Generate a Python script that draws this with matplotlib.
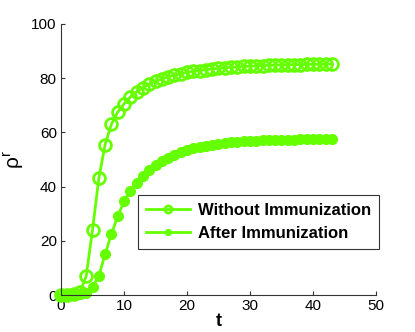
import matplotlib
matplotlib.use("Agg")
import matplotlib.pyplot as plt
import numpy as np

t = list(range(0, 44))
without_imm = [0, 0, 0.3, 1, 7, 24, 43, 55.5, 63, 67.5,
               70.5, 73, 75, 76.5, 77.8, 78.8, 79.7, 80.5, 81.1, 81.6,
               82.1, 82.5, 82.8, 83.1, 83.4, 83.6, 83.8, 84, 84.1, 84.3,
               84.4, 84.5, 84.6, 84.7, 84.8, 84.85, 84.9, 84.95, 85, 85.05,
               85.1, 85.1, 85.15, 85.2]
after_imm = [0, 0, 0, 0.3, 0.8, 3, 7, 15, 22.5, 29, 34.5, 38.5, 41.5,
             44, 46, 47.8, 49.3, 50.6, 51.7, 52.7, 53.5, 54.2, 54.7,
             55.1, 55.5, 55.8, 56.1, 56.3, 56.5, 56.7, 56.8, 56.9, 57,
             57.1, 57.2, 57.25, 57.3, 57.35, 57.4, 57.45, 57.5, 57.5, 57.55, 57.6]
labels = ["Without Immunization", "After Immunization"]
xticks = [0, 10, 20, 30, 40, 50]
yticks = [0, 20, 40, 60, 80, 100]

plt.rcParams['font.family'] = ['Liberation Sans', 'DejaVu Sans']
plt.rcParams['mathtext.fontset'] = 'custom'
plt.rcParams['mathtext.rm'] = 'DejaVu Sans'
color = '#66ff00'

fig = plt.figure(figsize=(4.15, 3.32), dpi=100)
ax = fig.add_axes([0.147, 0.1114, 0.759, 0.8166])
ax.plot(t, without_imm, '-o', color=color, lw=2, ms=8.5, mfc='none', mew=2, label=labels[0])
ax.plot(t, after_imm, '-o', color=color, lw=2, ms=7, mfc=color, mew=1, label=labels[1])
ax.set_xlim(0, 50)
ax.set_ylim(0, 100)
ax.set_xticks(xticks)
ax.set_yticks(yticks)
for s in ['top', 'right']:
    ax.spines[s].set_visible(False)
for s in ['left', 'bottom']:
    ax.spines[s].set_color('#333333')
    ax.spines[s].set_linewidth(0.8)
ax.tick_params(direction='in', length=3, width=0.8, color='#333333', labelsize=11, pad=3)
ax.set_xlabel('t', fontsize=13, fontweight='bold', labelpad=0)
ax.set_ylabel(r'$\mathregular{\rho^r}$', fontsize=15, labelpad=4)
leg = ax.legend(loc='lower left', bbox_to_anchor=(0.244, 0.17), prop={'size': 12, 'weight': 'bold'},
                frameon=True, fancybox=False, edgecolor='black', borderpad=0.5,
                handlelength=2.6, markerscale=0.6, labelspacing=0.45, borderaxespad=0,
                handletextpad=0.5)
leg.get_frame().set_linewidth(0.8)
for l in ax.lines:
    l.set_clip_on(False)
fig.savefig('out.png', dpi=100)
